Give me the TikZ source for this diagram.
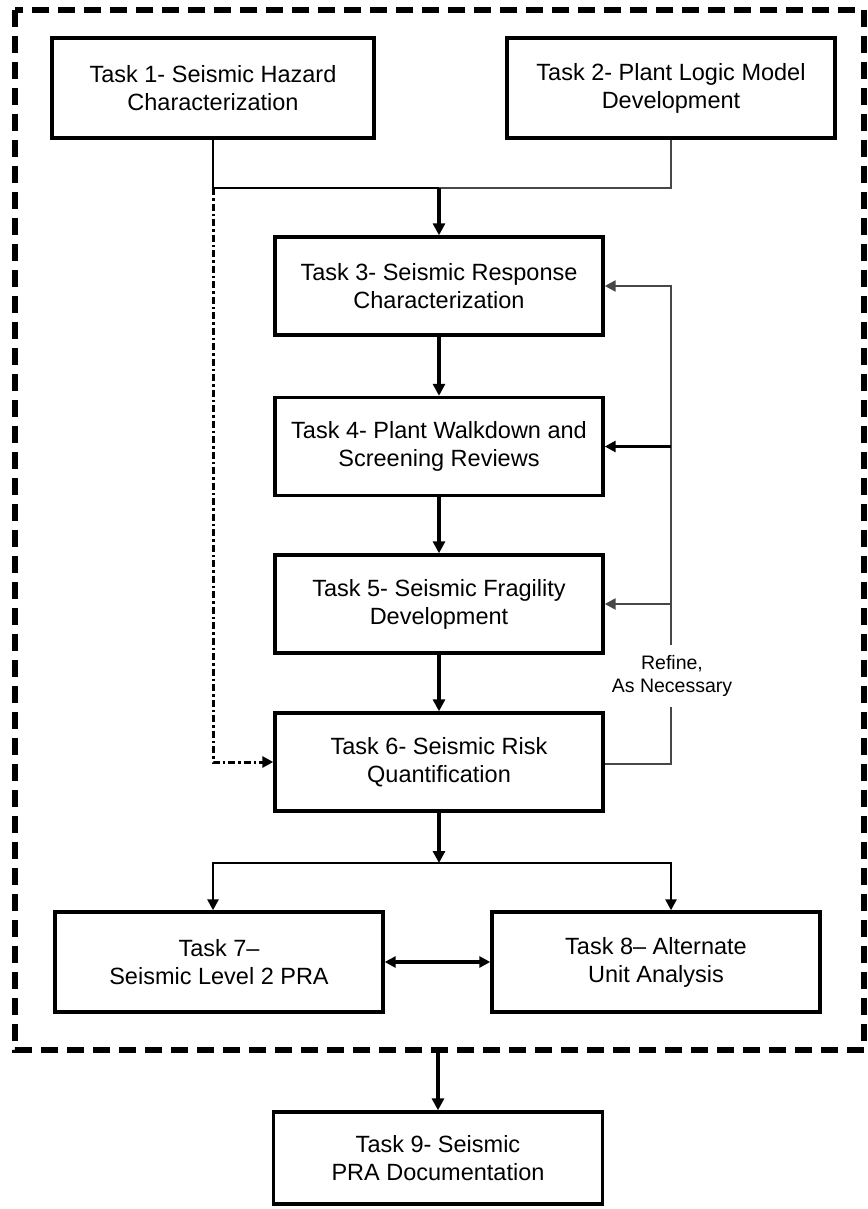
\documentclass[tikz,border=0pt]{standalone}
\usepackage{fontspec}
\setmainfont{Liberation Sans}
\usetikzlibrary{arrows.meta}
\begin{document}
\begin{tikzpicture}[x=1pt,y=-1pt,
  taskbox/.style={draw=black, line width=3.4pt, fill=white, align=center,
    minimum width=328pt, minimum height=98pt, inner sep=0pt,
    font=\fontsize{23.5}{28}\selectfont},
  flow/.style={line width=3.2pt, -{Triangle[length=12pt,width=12pt]}},
  wire/.style={line width=2.6pt, draw=black},
  greywire/.style={line width=2.4pt, draw=black!72},
  feed/.style={greywire, -{Triangle[length=11pt,width=11pt]}},
  dashdotline/.style={line width=3pt, dash pattern=on 7pt off 3pt on 2.5pt off 3pt},
  frame/.style={line width=5.5pt, dash pattern=on 17pt off 9pt},
  note/.style={align=center, inner sep=0pt, minimum height=62pt,
    font=\fontsize{19.5}{23}\selectfont}]
\useasboundingbox (0,0) rectangle (867,1209);

% outer dashed frame around tasks 1-8
\draw[frame] (15,10) rectangle (864,1050);
\coordinate (framebottom) at (438,1050);

% task boxes
\node[taskbox, minimum width=322pt, minimum height=100pt] (t1) at (213,88)
  {Task 1- Seismic Hazard\\Characterization};
\node[taskbox, minimum height=100pt] (t2) at (671,88)
  {Task 2- Plant Logic Model\\Development};
\node[taskbox] (t3) at (439,286) {Task 3- Seismic Response\\Characterization};
\node[taskbox] (t4) at (439,446.5) {Task 4- Plant Walkdown and\\Screening Reviews};
\node[taskbox] (t5) at (439,604) {Task 5- Seismic Fragility\\Development};
\node[taskbox] (t6) at (439,762) {Task 6- Seismic Risk\\Quantification};
\node[taskbox, minimum height=100pt] (t7) at (219,962) {Task 7--\\Seismic Level 2 PRA};
\node[taskbox, minimum height=100pt] (t8) at (656,962) {Task 8-- Alternate\\Unit Analysis};
\node[taskbox, minimum width=329pt, minimum height=92pt] (t9) at (438,1158)
  {Task 9- Seismic\\PRA Documentation};

% merge of tasks 1 and 2 into task 3
\coordinate (merge) at (439,188);
\draw[wire] (t1.south) -- (t1.south |- merge) -- (merge);
\draw[greywire] (merge) -| (t2.south);
\draw[flow] (merge) -- (t3.north);

% main sequence
\draw[flow] (t3) -- (t4);
\draw[flow] (t4) -- (t5);
\draw[flow] (t5) -- (t6);

% hazard results go straight to quantification
\draw[dashdotline, -{Triangle[length=11pt,width=11pt]}]
  (t1.south |- merge) |- (t6.west);

% refinement loop
\node[note] (refine) at (672,676) {Refine,\\As Necessary};
\coordinate (loop) at (671,764);
\draw[greywire] (t6.east |- loop) -- (loop) -- (loop |- refine.south);
\draw[feed] (loop |- refine.north) |- (t3.east);
\draw[line width=3.2pt, -{Triangle[length=11pt,width=11pt]}] (loop |- t4.east) -- (t4.east);
\draw[feed] (loop |- t5.east) -- (t5.east);

% split to tasks 7 and 8
\coordinate (split) at (439,863);
\draw[flow] (t6) -- (split);
\draw[wire, -{Triangle[length=11pt,width=11pt]}] (split) -| (t1.south |- t7.north);
\draw[wire, -{Triangle[length=11pt,width=11pt]}] (split) -| (t2.south |- t8.north);
\draw[line width=3.2pt, {Triangle[length=11pt,width=11pt]}-{Triangle[length=11pt,width=11pt]}]
  (t7.east) -- (t8.west);

% documentation
\draw[flow] (framebottom) -- (t9.north);
\end{tikzpicture}
\end{document}
